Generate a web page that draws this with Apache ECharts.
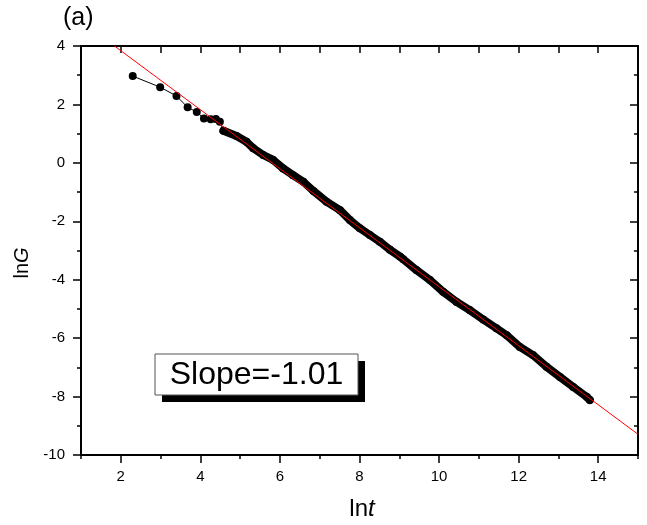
<!DOCTYPE html>
<html>
<head>
<meta charset="utf-8">
<script src="https://cdn.jsdelivr.net/npm/echarts@6/dist/echarts.min.js"></script>
<style>
html,body{margin:0;padding:0;background:#fff;}
#chart{width:647px;height:525px;}
</style>
</head>
<body>
<div id="chart"></div>
<script>
// ---- data ----
var lnT = [2.30, 2.99, 3.40, 3.68, 3.91, 4.09, 4.26, 4.39, 4.49,
  4.58, 4.91, 5.16, 5.33, 5.58, 5.83, 6.08, 6.33, 6.59, 6.84, 7.17, 7.51, 7.76,
  8.01, 8.26, 8.51, 8.76, 9.02, 9.10, 9.43, 9.77, 10.10, 10.44, 10.77, 11.11,
  11.44, 11.70, 12.03, 12.36, 12.70, 13.04, 13.37, 13.71, 13.79];
var lnGv = [2.97, 2.59, 2.29, 1.90, 1.74, 1.52, 1.49, 1.50, 1.41,
  1.10, 0.92, 0.72, 0.50, 0.27, 0.10, -0.19, -0.42, -0.65, -0.96, -1.33, -1.62, -1.96,
  -2.24, -2.47, -2.70, -2.97, -3.21, -3.30, -3.67, -4.01, -4.41, -4.76, -5.04, -5.36,
  -5.66, -5.90, -6.30, -6.58, -6.98, -7.33, -7.67, -8.01, -8.12];
var denseStart = 9;           // index where the markers overlap into a band
var fitSlope = -1.01;
var fitIntercept = 5.86;
var fitX = [1.84, 15];
var xTickLabels = [2, 4, 6, 8, 10, 12, 14];
var slopeText = 'Slope=-1.01';

var points = lnT.map(function (x, i) { return [x, lnGv[i]]; });
var densePoints = points.slice(denseStart);
var fitPoints = fitX.map(function (x) { return [x, fitIntercept + fitSlope * x]; });

var FONT = 'Arial, "Liberation Sans", sans-serif';
var chart = echarts.init(document.getElementById('chart'), null, {renderer: 'canvas'});
var axisLine = {show: true, onZero: false, lineStyle: {color: '#000', width: 2}};

chart.setOption({
  backgroundColor: '#fff',
  animation: false,
  grid: {left: 81, right: 9, top: 46, bottom: 70, containLabel: false},
  xAxis: [
    {type: 'value', position: 'bottom', min: 1, max: 15,
      axisLine: axisLine,
      axisTick: {show: true, customValues: xTickLabels, length: 8, lineStyle: {color: '#000', width: 1.5}},
      axisLabel: {show: true, customValues: xTickLabels, fontSize: 15, color: '#000', fontFamily: FONT, margin: 14},
      splitLine: {show: false}},
    {type: 'value', position: 'bottom', min: 1, max: 15, interval: 1,
      axisLine: {show: false, onZero: false},
      axisTick: {show: true, length: 4, lineStyle: {color: '#000', width: 1.5}},
      axisLabel: {show: false}, splitLine: {show: false}},
    {type: 'value', position: 'top', min: 1, max: 15, interval: 1,
      axisLine: axisLine,
      axisTick: {show: true, inside: true, length: 7, lineStyle: {color: '#000', width: 1.5}},
      axisLabel: {show: false}, splitLine: {show: false}}
  ],
  yAxis: [
    {type: 'value', position: 'left', min: -10, max: 4, interval: 2,
      axisLine: axisLine,
      axisTick: {show: true, length: 8, lineStyle: {color: '#000', width: 1.5}},
      minorTick: {show: true, splitNumber: 2, length: 4, lineStyle: {color: '#000', width: 1.5}},
      axisLabel: {fontSize: 15, color: '#000', fontFamily: FONT, margin: 16},
      splitLine: {show: false}, minorSplitLine: {show: false}},
    {type: 'value', position: 'right', min: -10, max: 4, interval: 2,
      axisLine: axisLine,
      axisTick: {show: true, inside: true, length: 8, lineStyle: {color: '#000', width: 1.5}},
      minorTick: {show: true, splitNumber: 2, length: 4, lineStyle: {color: '#000', width: 1.5}},
      axisLabel: {show: false},
      splitLine: {show: false}, minorSplitLine: {show: false}}
  ],
  series: [
    {type: 'line', xAxisIndex: 0, yAxisIndex: 0, data: densePoints,
      symbol: 'none', lineStyle: {color: '#000', width: 8, cap: 'round', join: 'round'}, z: 2},
    {type: 'line', xAxisIndex: 0, yAxisIndex: 0, data: points,
      symbol: 'circle', symbolSize: 8, itemStyle: {color: '#000'},
      lineStyle: {color: '#000', width: 1}, z: 3},
    {type: 'line', xAxisIndex: 0, yAxisIndex: 0, data: fitPoints,
      symbol: 'none', lineStyle: {color: '#ff0000', width: 1}, z: 5, clip: true}
  ],
  graphic: [
    {type: 'text', left: 63, top: 6, style: {text: '(a)', fontSize: 25, fill: '#000', fontFamily: FONT}},
    {type: 'text', x: 22, y: 263, rotation: Math.PI / 2,
      style: {text: '{n|ln}{i|G}', align: 'center', verticalAlign: 'middle',
        rich: {n: {fontSize: 20, fontFamily: FONT, fill: '#000'},
               i: {fontSize: 20, fontFamily: FONT, fontStyle: 'italic', fill: '#000'}}}},
    {type: 'text', x: 362, y: 509,
      style: {text: '{n|ln}{i|t}', align: 'center', verticalAlign: 'middle',
        rich: {n: {fontSize: 24, fontFamily: FONT, fill: '#000'},
               i: {fontSize: 24, fontFamily: FONT, fontStyle: 'italic', fill: '#000'}}}},
    {type: 'rect', shape: {x: 162, y: 361, width: 203, height: 41}, style: {fill: '#000'}, z: 10},
    {type: 'rect', shape: {x: 155, y: 354, width: 203, height: 41}, style: {fill: '#fff', stroke: '#555', lineWidth: 1}, z: 11},
    {type: 'text', x: 256.5, y: 375, z: 12,
      style: {text: slopeText, align: 'center', verticalAlign: 'middle', fontSize: 32, fontFamily: FONT, fill: '#000'}}
  ]
});
</script>
</body>
</html>
